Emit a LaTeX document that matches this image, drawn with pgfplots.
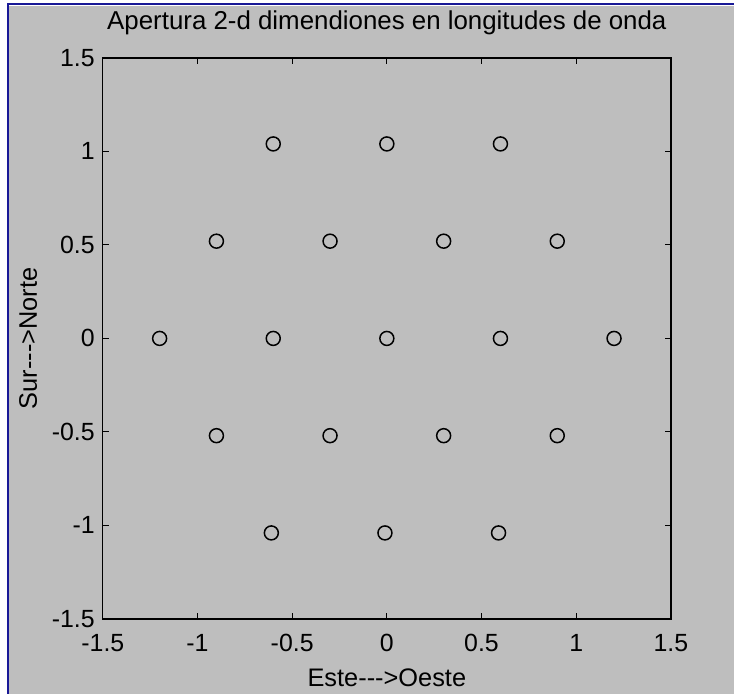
\documentclass[border=0pt]{standalone}
\usepackage{fontspec}
\setmainfont{Liberation Sans}[Ligatures=TeXOff]
\usepackage{pgfplots}
\pgfplotsset{compat=1.18}
\definecolor{bg}{RGB}{190,190,190}
\definecolor{frameblue}{RGB}{25,25,150}
\begin{document}
\begin{tikzpicture}
\fill[white] (0,0) rectangle (735bp,695bp);
\fill[bg] (9.5bp,0) rectangle (735bp,689bp);
\draw[frameblue, line width=2.5bp] (8bp,0) -- (8bp,691bp) -- (735bp,691bp);
\begin{axis}[
  at={(103bp,75bp)}, anchor=south west,
  scale only axis, width=569bp, height=562bp,
  xmin=-1.5, xmax=1.5, ymin=-1.5, ymax=1.5,
  xtick={-1.5,-1,-0.5,0,0.5,1,1.5},
  ytick={-1.5,-1,-0.5,0,0.5,1,1.5},
  xticklabels={{-1.5},{-1},{-0.5},{0},{0.5},{1},{1.5}},
  yticklabels={{-1.5},{-1},{-0.5},{0},{0.5},{1},{1.5}},
  tick align=inside,
  major tick length=6bp,
  tick style={black, line width=1bp},
  axis line style={black, line width=1.3bp},
  ticklabel style={font=\fontsize{25}{30}\selectfont, inner sep=0pt},
  xticklabel style={anchor=base, yshift=-33bp},
  yticklabel style={anchor=east, xshift=-8bp},
  title={Apertura 2-d dimendiones en longitudes de onda},
  title style={font=\fontsize{26}{31}\selectfont, at={(axis description cs:0.5,1.0391)}, anchor=base, inner sep=0pt},
  xlabel={Este--->Oeste},
  ylabel={Sur--->Norte},
  xlabel style={font=\fontsize{25.5}{30}\selectfont, at={(axis description cs:0.5,-0.121)}, anchor=base, inner sep=0pt},
  ylabel style={font=\fontsize{25.5}{30}\selectfont, at={(axis description cs:-0.116,0.5)}, anchor=base, inner sep=0pt},
]
\addplot[only marks, mark=o, mark size=7bp, mark options={black, line width=1.5bp}] coordinates {
(-0.6,1.04)(0,1.04)(0.6,1.04)
(-0.9,0.52)(-0.3,0.52)(0.3,0.52)(0.9,0.52)
(-1.2,0)(-0.6,0)(0,0)(0.6,0)(1.2,0)
(-0.9,-0.52)(-0.3,-0.52)(0.3,-0.52)(0.9,-0.52)
(-0.61,-1.04)(-0.01,-1.04)(0.59,-1.04)
};
\end{axis}
\end{tikzpicture}
\end{document}
